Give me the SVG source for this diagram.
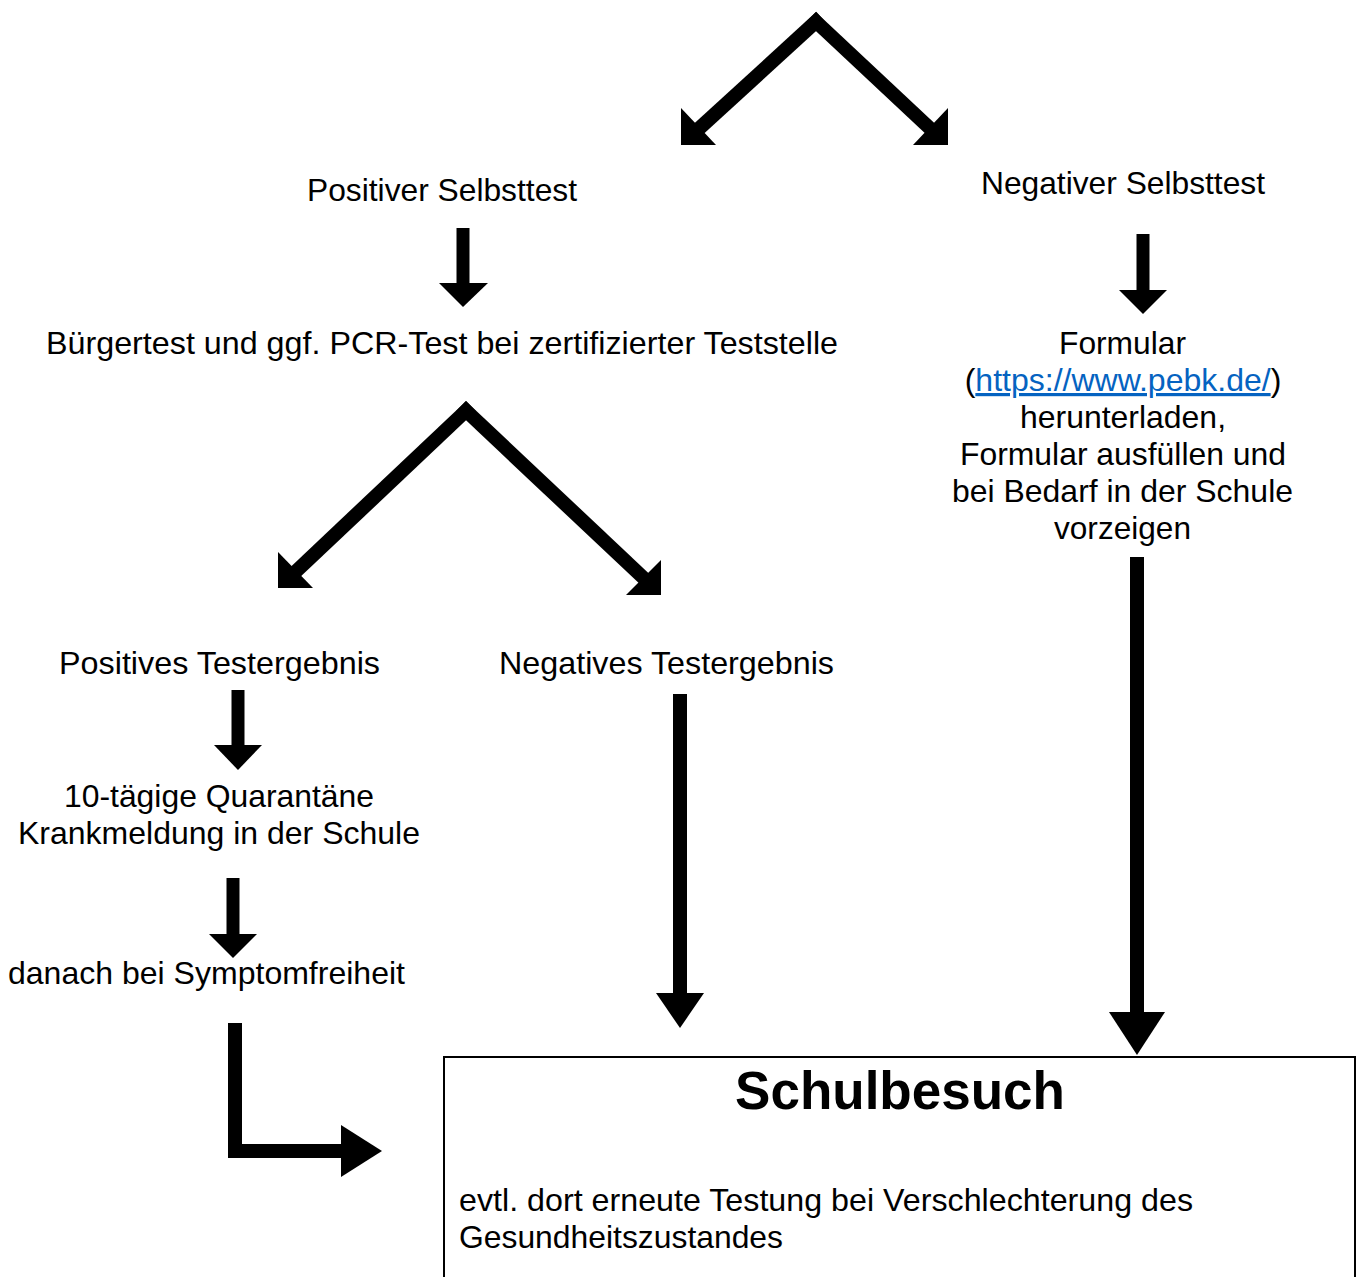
<svg xmlns="http://www.w3.org/2000/svg" width="1366" height="1277" viewBox="0 0 1366 1277">
<style>
text{font-family:"Liberation Sans",Arial,sans-serif;font-size:32px;fill:#000}
.c{text-anchor:middle}
.link{fill:#0563C1;text-decoration:underline}
.shaft{stroke:#000;stroke-width:14;fill:none;stroke-linecap:butt}
.vs{stroke:#000;stroke-width:13;fill:none}
.head{fill:#000}
</style>
<rect width="1366" height="1277" fill="#fff"/>
<g id="connectors">
  <line class="shaft" x1="821" y1="17" x2="692" y2="135"/>
  <polygon class="head" points="681,108 681,145 716,145"/>
  <line class="shaft" x1="811" y1="17" x2="937" y2="135"/>
  <polygon class="head" points="948,108 948,145 913,145"/>
  <line class="vs" x1="463" y1="228" x2="463" y2="284"/>
  <polygon class="head" points="439,283 488,283 463,307"/>
  <line class="vs" x1="1143" y1="234" x2="1143" y2="291"/>
  <polygon class="head" points="1119,290 1167,290 1143,314"/>
  <line class="shaft" x1="471" y1="406" x2="289" y2="578"/>
  <polygon class="head" points="278,552 278,588 313,588"/>
  <line class="shaft" x1="461" y1="406" x2="651" y2="585"/>
  <polygon class="head" points="661,560 661,595 626,595"/>
  <line class="vs" x1="238" y1="690" x2="238" y2="746"/>
  <polygon class="head" points="214,745 262,745 238,770"/>
  <line class="vs" x1="233" y1="878" x2="233" y2="935"/>
  <polygon class="head" points="209,934 257,934 233,958"/>
  <line class="shaft" x1="680" y1="694" x2="680" y2="995"/>
  <polygon class="head" points="656,993 704,993 680,1028"/>
  <line class="shaft" x1="1137" y1="557" x2="1137" y2="1014"/>
  <polygon class="head" points="1109,1012 1165,1012 1137,1055"/>
  <polyline class="shaft" points="235,1023 235,1151 343,1151"/>
  <polygon class="head" points="341,1125 341,1177 382,1151"/>
</g>
<g id="n-positiver-selbsttest"><text x="307" y="201" textLength="270" lengthAdjust="spacingAndGlyphs">Positiver Selbsttest</text></g>
<g id="n-negativer-selbsttest"><text x="981" y="194" textLength="284" lengthAdjust="spacingAndGlyphs">Negativer Selbsttest</text></g>
<g id="n-buergertest"><text x="46" y="354" textLength="792" lengthAdjust="spacingAndGlyphs">Bürgertest und ggf. PCR-Test bei zertifizierter Teststelle</text></g>
<g id="n-formular">
  <text x="1059" y="354" textLength="127" lengthAdjust="spacingAndGlyphs">Formular</text>
  <text class="c" x="1123" y="391">(<tspan class="link">https://www.pebk.de/</tspan>)</text>
  <text x="1020" y="428" textLength="206" lengthAdjust="spacingAndGlyphs">herunterladen,</text>
  <text x="960" y="465" textLength="326" lengthAdjust="spacingAndGlyphs">Formular ausfüllen und</text>
  <text x="952" y="502" textLength="341" lengthAdjust="spacingAndGlyphs">bei Bedarf in der Schule</text>
  <text x="1054" y="539" textLength="137" lengthAdjust="spacingAndGlyphs">vorzeigen</text>
</g>
<g id="n-positives-testergebnis"><text x="59" y="674" textLength="321" lengthAdjust="spacingAndGlyphs">Positives Testergebnis</text></g>
<g id="n-negatives-testergebnis"><text x="499" y="674" textLength="335" lengthAdjust="spacingAndGlyphs">Negatives Testergebnis</text></g>
<g id="n-quarantaene">
  <text x="64" y="807" textLength="310" lengthAdjust="spacingAndGlyphs">10-tägige Quarantäne</text>
  <text x="18" y="844" textLength="402" lengthAdjust="spacingAndGlyphs">Krankmeldung in der Schule</text>
</g>
<g id="n-symptomfreiheit"><text x="8" y="984" textLength="397" lengthAdjust="spacingAndGlyphs">danach bei Symptomfreiheit</text></g>
<g id="n-schulbesuch">
  <rect x="444" y="1057" width="911" height="240" fill="#fff" stroke="#000" stroke-width="2"/>
  <text class="c" x="900" y="1109" style="font-weight:bold;font-size:53px">Schulbesuch</text>
  <text x="459" y="1211" textLength="734" lengthAdjust="spacingAndGlyphs">evtl. dort erneute Testung bei Verschlechterung des</text>
  <text x="459" y="1248" textLength="324" lengthAdjust="spacingAndGlyphs">Gesundheitszustandes</text>
</g>
</svg>
